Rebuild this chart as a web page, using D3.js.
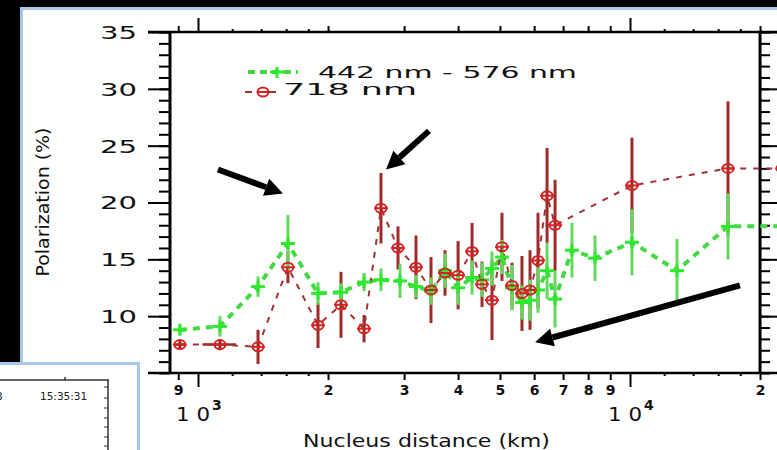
<!DOCTYPE html>
<html><head><meta charset="utf-8">
<script src="https://cdn.jsdelivr.net/npm/d3@7"></script>
<style>html,body{margin:0;padding:0;background:#000;overflow:hidden}svg{display:block}</style>
</head><body>
<svg id="c" width="777" height="450"></svg>
<script>
// ---- data ----
const greenDist = [908,1124,1377,1615,1896,2143,2423,2652,2935,3196,3462,3731,4000,4309,4544,4792,5054,5332,5623,5869,6124,6427,6707,7339,8299,10106,12845,16860,22500];
const greenPol  = [8.8,9.1,12.6,16.4,12.0,12.1,13.0,13.2,13.1,12.6,12.2,14.0,12.5,13.4,13.2,14.2,15.2,12.5,11.2,11.4,12.3,14.0,11.5,15.8,15.1,16.5,14.0,17.9,17.9];
const greenErr  = [0.4,0.9,0.9,2.5,1.0,0.8,0.8,1.0,1.5,1.0,1.2,1.5,1.5,1.5,1.5,1.5,1.5,2.0,1.5,1.8,2.0,2.5,2.5,2.4,2.0,2.9,2.8,2.9,2.9];

const redDist = [908,1124,1377,1615,1896,2143,2423,2652,2904,3196,3462,3731,4000,4309,4544,4792,5054,5332,5623,5869,6124,6427,6707,10106,16860,22500];
const redPol  = [7.5,7.5,7.3,14.3,9.2,11.0,8.9,19.5,16.0,14.3,12.3,13.8,13.6,15.7,12.8,11.4,16.1,12.7,12.0,12.3,14.9,20.6,18.0,21.5,23.0,23.0];
const redErr  = [0.4,0.5,1.5,1.4,2.0,2.9,1.2,3.1,1.9,2.8,2.9,2.0,3.0,2.5,2.0,3.5,3.0,2.0,3.3,3.5,4.2,4.2,4.0,4.2,5.9,5.9];
const redXErr = [22,100,0,0,0,0,0,0,0,0,0,0,0,0,0,0,0,0,0,0,0,0,0,0,0,0];

const seriesNames = ["442 nm - 576 nm", "718 nm"];
const yMajorTicks = [10,15,20,25,30,35];
const yMinorTicks = d3.range(5,36,1);
const xLabeledTicks = [900,2000,3000,4000,5000,6000,7000,8000,9000,20000];
const xLabels = ["9","2","3","4","5","6","7","8","9","2"];
const xDecadeTicks = [1000,10000];
const xDecadeLabels = ["3","4"];
const xTinyTicks = [1200,1400,1600,1800,12000,14000,16000,18000];
// annotation arrows [tailDist, tailPol, tipDist, tipPol]
const arrows = [[1112,22.9,1573,20.8],[3425,26.3,2724,22.9],[17970,12.7,6030,7.7]];

// ---- layout ----
const svg = d3.select("#c");
const X0 = 170, YT = 32, YB = 373;
const x = d3.scaleLog().domain([1000,10000]).range([198,630]);
const y = d3.scaleLinear().domain([5,35]).range([YB,YT]);
const XR = x(20000);

svg.append("rect").attr("width",777).attr("height",450).attr("fill","#000");
svg.append("rect").attr("x",21.5).attr("y",8.5).attr("width",900).attr("height",600)
  .attr("fill","#fff").attr("stroke","#a7c8ea").attr("stroke-width",3);

const tickFont = "'DejaVu Sans', sans-serif";

function styleAxis(g){ g.select(".domain").remove(); g.selectAll(".tick line").attr("stroke","#000").attr("stroke-width",2); }

svg.append("g").attr("transform",`translate(${X0},0)`)
  .call(d3.axisLeft(y).tickValues(yMinorTicks).tickSize(11).tickFormat("")).call(styleAxis);
const yl = svg.append("g").attr("transform",`translate(${X0},0)`)
  .call(d3.axisLeft(y).tickValues(yMajorTicks).tickSize(22).tickPadding(11).tickFormat(d=>String(d))).call(styleAxis);
yl.selectAll("text").attr("font-family",tickFont).attr("font-size",18).attr("fill","#111")
  .attr("dy","0.36em").attr("textLength",37).attr("lengthAdjust","spacingAndGlyphs");

svg.append("g").attr("transform",`translate(${XR},0)`)
  .call(d3.axisRight(y).tickValues(yMinorTicks).tickSize(10).tickFormat("")).call(styleAxis);
svg.append("g").attr("transform",`translate(${XR},0)`)
  .call(d3.axisRight(y).tickValues(yMajorTicks).tickSize(22).tickFormat("")).call(styleAxis);

svg.append("g").attr("transform",`translate(0,${YB})`)
  .call(d3.axisBottom(x).tickValues(xTinyTicks).tickSize(3).tickFormat("")).call(styleAxis);
const xb = svg.append("g").attr("transform",`translate(0,${YB})`)
  .call(d3.axisBottom(x).tickValues(xLabeledTicks).tickSize(7).tickPadding(5).tickFormat((d,i)=>xLabels[i])).call(styleAxis);
xb.selectAll("text").attr("font-family",tickFont).attr("font-size",14).attr("font-weight","bold").attr("fill","#111");
svg.append("g").attr("transform",`translate(0,${YB})`)
  .call(d3.axisBottom(x).tickValues(xDecadeTicks).tickSize(14).tickFormat("")).call(styleAxis);
xDecadeTicks.forEach((d,i)=>{
  const t = svg.append("text").attr("x",x(d)-22).attr("y",421)
    .attr("font-family",tickFont).attr("font-size",19).attr("fill","#111");
  t.append("tspan").attr("textLength",34).attr("lengthAdjust","spacingAndGlyphs").text("1 0");
  t.append("tspan").attr("dx",2).attr("dy",-11).attr("font-size",14).attr("font-weight","bold").text(xDecadeLabels[i]);
});
svg.append("g").attr("transform",`translate(0,${YT})`)
  .call(d3.axisTop(x).tickValues(xTinyTicks).tickSize(3).tickFormat("")).call(styleAxis);
svg.append("g").attr("transform",`translate(0,${YT})`)
  .call(d3.axisTop(x).tickValues(xLabeledTicks).tickSize(6).tickFormat("")).call(styleAxis);
svg.append("g").attr("transform",`translate(0,${YT})`)
  .call(d3.axisTop(x).tickValues(xDecadeTicks).tickSize(14).tickFormat("")).call(styleAxis);

const frame = svg.append("g").attr("stroke","#000");
frame.append("line").attr("x1",148).attr("x2",777).attr("y1",YT).attr("y2",YT).attr("stroke-width",2.5);
frame.append("line").attr("x1",148).attr("x2",777).attr("y1",YB).attr("y2",YB).attr("stroke-width",2.5);
frame.append("line").attr("x1",X0).attr("x2",X0).attr("y1",YT).attr("y2",YB).attr("stroke-width",3);
frame.append("line").attr("x1",XR).attr("x2",XR).attr("y1",YT).attr("y2",YB).attr("stroke-width",3);

svg.append("text").attr("transform","translate(49,202) rotate(-90)").attr("text-anchor","middle")
  .attr("font-family","'DejaVu Sans', sans-serif").attr("font-size",17).attr("fill","#111")
  .attr("textLength",149).attr("lengthAdjust","spacingAndGlyphs").text("Polarization (%)");
svg.append("text").attr("x",303).attr("y",447).attr("font-family",tickFont).attr("font-size",17).attr("fill","#111")
  .attr("textLength",247).attr("lengthAdjust","spacingAndGlyphs").text("Nucleus distance (km)");

const green = greenDist.map((d,i)=>({d, v:greenPol[i], e:greenErr[i]}));
const red = redDist.map((d,i)=>({d, v:redPol[i], e:redErr[i], xe:redXErr[i]}));
const GBAR="#62d95a", GMARK="#2ee82e", GLINE="#45d845";
const RBAR="#9e2a2a", RMARK="#d52222", RLINE="#a33333";
const line = d3.line().x(p=>x(p.d)).y(p=>y(p.v));
const plot = svg.append("g");

plot.append("g").selectAll("line").data(red).join("line")
  .attr("x1",p=>x(p.d)).attr("x2",p=>x(p.d)).attr("y1",p=>y(p.v+p.e)).attr("y2",p=>y(p.v-p.e))
  .attr("stroke",RBAR).attr("stroke-width",3);
plot.append("g").selectAll("line").data(red.filter(p=>p.xe>0)).join("line")
  .attr("x1",p=>x(p.d-p.xe)).attr("x2",p=>x(p.d+p.xe)).attr("y1",p=>y(p.v)).attr("y2",p=>y(p.v))
  .attr("stroke",RBAR).attr("stroke-width",2.5);
plot.append("g").selectAll("line").data(green).join("line")
  .attr("x1",p=>x(p.d)).attr("x2",p=>x(p.d)).attr("y1",p=>y(p.v+p.e)).attr("y2",p=>y(p.v-p.e))
  .attr("stroke",GBAR).attr("stroke-width",3);
plot.append("path").datum(green).attr("d",line).attr("fill","none").attr("stroke",GLINE)
  .attr("stroke-width",4).attr("stroke-dasharray","7,6");
plot.append("path").datum(red).attr("d",line).attr("fill","none").attr("stroke",RLINE)
  .attr("stroke-width",2).attr("stroke-dasharray","6,7");
plot.append("g").selectAll("g").data(green).join("g")
  .attr("transform",p=>`translate(${x(p.d)},${y(p.v)})`)
  .each(function(){ const g=d3.select(this);
    g.append("line").attr("x1",-7).attr("x2",7).attr("stroke",GMARK).attr("stroke-width",3);
    g.append("line").attr("y1",-6).attr("y2",6).attr("stroke",GMARK).attr("stroke-width",3); });
plot.append("g").selectAll("g").data(red).join("g")
  .attr("transform",p=>`translate(${x(p.d)},${y(p.v)})`)
  .each(function(){ const g=d3.select(this);
    g.append("ellipse").attr("rx",5.5).attr("ry",4.5).attr("fill","none").attr("stroke",RMARK).attr("stroke-width",2);
    g.append("line").attr("x1",-7).attr("x2",7).attr("stroke",RMARK).attr("stroke-width",2); });

const lg = svg.append("g");
lg.append("line").attr("x1",248).attr("x2",298).attr("y1",72).attr("y2",72).attr("stroke",GLINE)
  .attr("stroke-width",4).attr("stroke-dasharray","7,5");
lg.append("line").attr("x1",270).attr("x2",284).attr("y1",72).attr("y2",72).attr("stroke",GMARK).attr("stroke-width",3);
lg.append("line").attr("x1",277).attr("x2",277).attr("y1",67).attr("y2",78).attr("stroke",GMARK).attr("stroke-width",3);
lg.append("text").attr("x",318).attr("y",78).attr("font-family",tickFont).attr("font-size",16).attr("fill","#111")
  .attr("textLength",259).attr("lengthAdjust","spacingAndGlyphs").text(seriesNames[0]);
lg.append("line").attr("x1",245).attr("x2",278).attr("y1",92).attr("y2",92).attr("stroke",RLINE)
  .attr("stroke-width",2).attr("stroke-dasharray","7,5");
lg.append("ellipse").attr("cx",263).attr("cy",92).attr("rx",5.5).attr("ry",4.5).attr("fill","#fff").attr("stroke",RMARK).attr("stroke-width",2);
lg.append("line").attr("x1",257).attr("x2",269).attr("y1",92).attr("y2",92).attr("stroke",RMARK).attr("stroke-width",2);
lg.append("text").attr("x",283).attr("y",95).attr("font-family",tickFont).attr("font-size",16).attr("fill","#111")
  .attr("textLength",134).attr("lengthAdjust","spacingAndGlyphs").text(seriesNames[1]);

arrows.forEach(a=>{
  const x1=x(a[0]), y1=y(a[1]), x2=x(a[2]), y2=y(a[3]);
  const ang=Math.atan2(y2-y1,x2-x1), L=18, W=9;
  const bx=x2-L*Math.cos(ang), by=y2-L*Math.sin(ang);
  svg.append("line").attr("x1",x1).attr("y1",y1).attr("x2",bx).attr("y2",by).attr("stroke","#000").attr("stroke-width",6);
  const px=-Math.sin(ang)*W, py=Math.cos(ang)*W;
  svg.append("polygon").attr("points",`${x2},${y2} ${bx+px},${by+py} ${bx-px},${by-py}`).attr("fill","#000");
});

const w2 = svg.append("g");
w2.append("rect").attr("x",-10).attr("y",363.5).attr("width",148.5).attr("height",100)
  .attr("fill","#fff").attr("stroke","#a7c8ea").attr("stroke-width",3);
w2.append("line").attr("x1",0).attr("x2",109).attr("y1",380).attr("y2",380).attr("stroke","#333").attr("stroke-width",1.5);
w2.append("line").attr("x1",108).attr("x2",108).attr("y1",380).attr("y2",452).attr("stroke","#333").attr("stroke-width",1.5);
w2.append("line").attr("x1",65).attr("x2",65).attr("y1",377).attr("y2",380).attr("stroke","#333").attr("stroke-width",1.5);
[387,398,408,418,427,437,446].forEach(t=>w2.append("line").attr("x1",104).attr("x2",108).attr("y1",t).attr("y2",t).attr("stroke","#333"));
w2.append("text").attr("x",40).attr("y",400).attr("font-family","'DejaVu Sans', sans-serif").attr("font-size",10.5).attr("fill","#222").text("15:35:31");
w2.append("text").attr("x",-4).attr("y",400).attr("font-family","'DejaVu Sans', sans-serif").attr("font-size",10.5).attr("fill","#222").text("3");
</script>
</body></html>
